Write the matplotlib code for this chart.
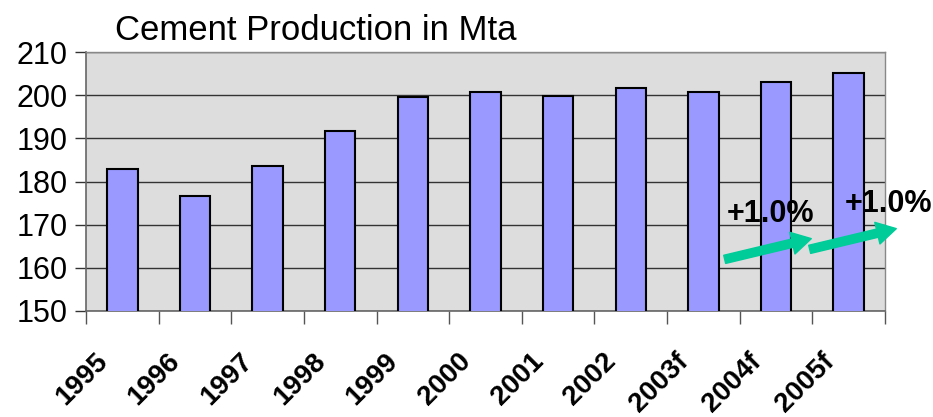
import matplotlib
matplotlib.use("Agg")
import matplotlib.pyplot as plt
import numpy as np

years = ["1995", "1996", "1997", "1998", "1999", "2000", "2001", "2002", "2003f", "2004f", "2005f"]
production = [182.8, 176.7, 183.7, 191.7, 199.5, 200.8, 199.8, 201.6, 200.7, 203.0, 205.1]
growth_labels = ["+1.0%", "+1.0%"]

plt.rcParams['font.family'] = ['Liberation Sans', 'DejaVu Sans']

W, H = 933, 417
fig = plt.figure(figsize=(W / 100, H / 100), dpi=100)
L, R, T, B = 86, 885, 52, 311
ax = fig.add_axes([L / W, 1 - B / H, (R - L) / W, (B - T) / H])
ax.set_facecolor("#DDDDDD")

x = np.arange(len(years))
ax.bar(x, production, width=0.42, bottom=0, color="#9999FF", edgecolor="black", linewidth=1.5, zorder=3)
ax.set_xlim(-0.5, len(years) - 0.5)
ax.set_ylim(150, 210)
ax.set_yticks(np.arange(150, 211, 10))
ax.yaxis.grid(True, color="#333333", linewidth=1.0, zorder=1)
ax.set_axisbelow(True)

for s in ["top", "right"]:
    ax.spines[s].set_color("#888888")
    ax.spines[s].set_linewidth(1.0)
for s in ["left", "bottom"]:
    ax.spines[s].set_color("#666666")
    ax.spines[s].set_linewidth(1.2)

ax.set_xticks(np.arange(-0.5, len(years), 1.0), minor=False)
ax.set_xticklabels([])
ax.tick_params(axis="x", which="major", length=9, color="#555555", width=1)
ax.tick_params(axis="y", length=8, color="#333333", width=1, labelsize=22, pad=5)

for xi, lab in zip(x, years):
    ax.annotate(lab, xy=(xi, 150), xycoords="data", xytext=(-20, -27), textcoords="offset points",
                rotation=45, ha="right", va="top", rotation_mode="anchor",
                fontsize=20, fontweight="bold", annotation_clip=False)

fig.text(115 / W, 1 - 30 / H, "Cement Production in Mta", fontsize=25, ha="left", va="center")

# growth arrows (figure pixel coords, origin bottom-left)
arrow_color = "#00CC99"
arrows = [((722, H - 260), (814, H - 238)), ((807, H - 250), (899, H - 228))]
for (p0, p1) in arrows:
    fig.add_artist(matplotlib.patches.FancyArrowPatch(
        (p0[0] / W, p0[1] / H), (p1[0] / W, p1[1] / H), transform=fig.transFigure,
        arrowstyle="simple,head_length=14,head_width=16,tail_width=6",
        color=arrow_color, mutation_scale=1, zorder=10))

fig.text(770 / W, 1 - 214 / H, growth_labels[0], fontsize=22, fontweight="bold", ha="center", va="center")
fig.text(888 / W, 1 - 204 / H, growth_labels[1], fontsize=22, fontweight="bold", ha="center", va="center")

fig.savefig("out.png", dpi=100)
